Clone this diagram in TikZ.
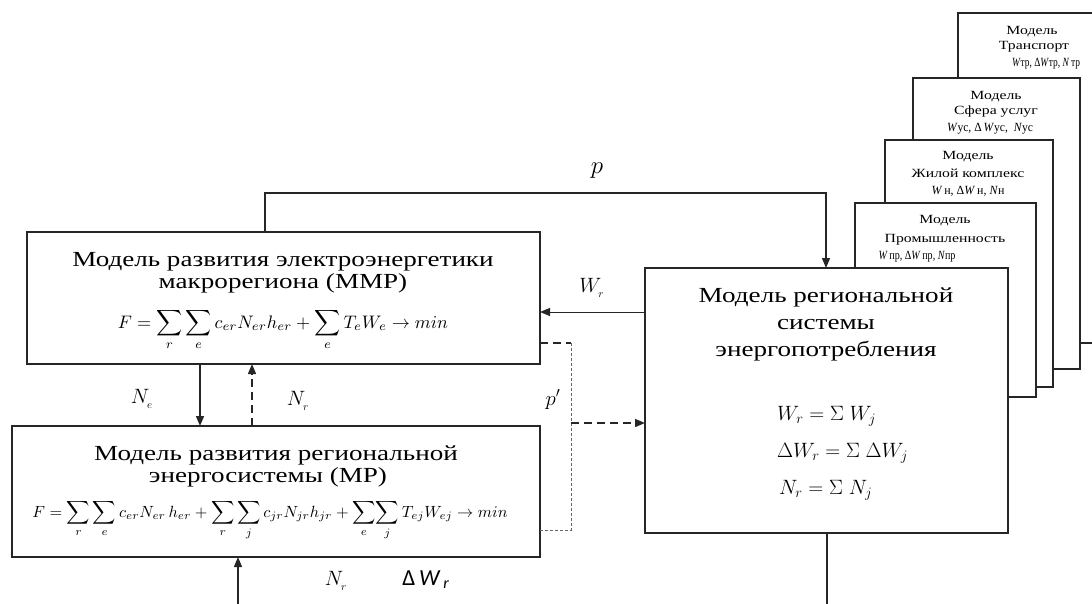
\documentclass[tikz,border=0pt]{standalone}
\usepackage{fontspec}
\setmainfont{Liberation Serif}
\newfontfamily\labelsans{Carlito}
\usepackage{graphicx}
\usetikzlibrary{arrows.meta}

% horizontally widened text, as set in the scheme
\newcommand\hs[1]{\scalebox{1.26}[1]{#1}}
% text squeezed to a given width, height kept
\newcommand\fitw[2]{\resizebox{#1}{\height}{#2}}

\begin{document}
\begin{tikzpicture}[x=1pt,y=-1pt,
  box/.style={draw=black!85,line width=1.5pt,fill=white,inner sep=0pt,outer sep=0pt,anchor=north west},
  conn/.style={draw=black!85,line width=1.4pt},
  thinconn/.style={draw=black!85,line width=1pt},
  dashconn/.style={draw=black!85,line width=1.4pt,dash pattern=on 8pt off 5pt},
  dotconn/.style={draw=black!60,line width=0.8pt,dash pattern=on 3pt off 2pt},
  tip/.style={-{Triangle[length=10pt,width=8pt]}},
  title/.style={font=\fontsize{21.5}{23}\selectfont,inner sep=0pt,anchor=base},
  small/.style={font=\fontsize{12.5}{15}\selectfont,inner sep=0pt,anchor=base},
  lab/.style={font=\fontsize{22}{24}\selectfont,inner sep=0pt,anchor=base},
]
\useasboundingbox (0,0) rectangle (1092,604);

% ---- sector models, stacked from back to front
\node[box,minimum width=144pt,minimum height=330pt] (tr) at (958,13) {};
\node[small] (trA) at (1032,35) {\hs{Модель}};
\node[small] (trB) at (1034,50) {\hs{Транспорт}};
\node[small] (trC) at (1046,67) {\fitw{68pt}{\textit{W}тр, Δ\textit{W}тр, \textit{N}\,тр}};

\node[box,minimum width=167pt,minimum height=291pt] (us) at (913,78) {};
\node[small] (usA) at (996,100) {\hs{Модель}};
\node[small] (usB) at (996,115) {\hs{Сфера услуг}};
\node[small] (usC) at (990,132) {\fitw{86pt}{\textit{W}ус, Δ\,\textit{W}ус, \ \textit{N}ус}};

\node[box,minimum width=168pt,minimum height=247pt] (zh) at (885,140) {};
\node[small] (zhA) at (968,160) {\hs{Модель}};
\node[small] (zhB) at (968,178) {\hs{Жилой комплекс}};
\node[small] (zhC) at (968,195) {\fitw{73pt}{\textit{W}\,н, Δ\textit{W}\,н, \textit{N}н}};

\node[box,minimum width=181pt,minimum height=194pt] (pr) at (855,203) {};
\node[small] (prA) at (945,223) {\hs{Модель}};
\node[small] (prB) at (945,242) {\hs{Промышленность}};
\node[small] (prC) at (917,259) {\fitw{77pt}{\textit{W}\,пр, Δ\textit{W}\,пр, \textit{N}пр}};

% ---- regional consumption model
\node[box,minimum width=363pt,minimum height=265pt] (cons) at (645,268) {};
\node[title] (consA) at (826,302) {\hs{Модель региональной}};
\node[title] (consB) at (826,329) {\hs{системы}};
\node[title] (consC) at (826,356) {\hs{энергопотребления}};
\node[lab,anchor=base west] (consD) at (777,420) {$W_r=\Sigma\;W_j$};
\node[lab,anchor=base west] (consE) at (777,457) {$\Delta W_r=\Sigma\;\Delta W_j$};
\node[lab,anchor=base west] (consF) at (779,494) {$N_r=\Sigma\;N_j$};

% ---- macro-region model
\node[box,minimum width=513pt,minimum height=132pt] (mmp) at (27,232) {};
\node[title] (mmpA) at (283,266) {\hs{Модель развития электроэнергетики}};
\node[title] (mmpB) at (283,288) {\hs{макрорегиона (ММР)}};
\node[inner sep=0pt,anchor=base] (mmpF) at (283,328)
  {\resizebox{330pt}{!}{$\displaystyle F=\sum_r\sum_e c_{er}N_{er}h_{er}+\sum_e T_eW_e\rightarrow min$}};

% ---- regional power system model
\node[box,minimum width=528pt,minimum height=131pt] (mp) at (12,426) {};
\node[title] (mpA) at (276,460) {\hs{Модель развития региональной}};
\node[title] (mpB) at (268,482) {\hs{энергосистемы (МР)}};
\node[inner sep=0pt,anchor=base] (mpF) at (270,517)
  {\resizebox{475pt}{!}{$\displaystyle F=\sum_r\sum_e c_{er}N_{er}\,h_{er}+\sum_r\sum_j c_{jr}N_{jr}h_{jr}+\sum_e\!\sum_j T_{ej}W_{ej}\rightarrow min$}};

% ---- connectors
\coordinate (pL) at (265,193);
\coordinate (pR) at (826,193);
\draw[conn,tip] (mmp.north -| pL) -- (pL) -- (pR) -- (cons.north -| pR);
\node[lab,font=\fontsize{24}{26}\selectfont] (pLab) at (597,174) {$p$};

\coordinate (wr) at (600,312);
\draw[thinconn,tip] (cons.west |- wr) -- (mmp.east |- wr);
\node[lab] (wrLab) at (592,292) {$W_{_r}$};

\coordinate (dv) at (571,343);
\coordinate (db) at (571,530);
\coordinate (da) at (571,423);
\draw[dashconn] (mmp.east |- dv) -- (dv);
\draw[dotconn] (dv) -- (db) -- (mp.east |- db);
\draw[dashconn,tip] (da) -- (cons.west |- da);
\node[lab] (ppLab) at (553,405) {$p'$};

\coordinate (ne) at (200,0);
\coordinate (nr) at (252,0);
\draw[conn,tip] (mmp.south -| ne) -- (mp.north -| ne);
\draw[dashconn,tip] (mp.north -| nr) -- (mmp.south -| nr);
\node[lab] (neLab) at (142,403) {$N_{_e}$};
\node[lab] (nrLab) at (298,405) {$N_{_r}$};

\coordinate (inb) at (238,604);
\draw[conn,tip] (inb) -- (mp.south -| inb);
\coordinate (outb) at (827,604);
\draw[conn] (cons.south -| outb) -- (outb);

\node[lab] (nrBot) at (336,585) {$N_{_r}$};
\node[lab,font=\fontsize{23}{25}\labelsans] (dwBot) at (426,585) {Δ\,\textit{W}\textsubscript{\,\textit{r}}};
\end{tikzpicture}
\end{document}
